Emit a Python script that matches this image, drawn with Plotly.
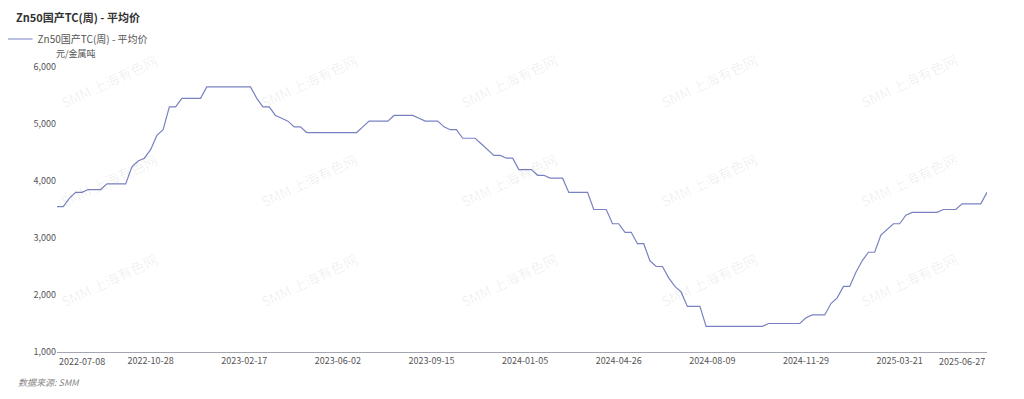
import pandas as pd
import plotly.graph_objects as go

# ---- data ----
title_text = "Zn50国产TC(周) - 平均价"
series_name = "Zn50国产TC(周) - 平均价"
unit_text = "元/金属吨"
source_text = "数据来源: SMM"
watermark_text = "SMM 上海有色网"

start_date = "2022-07-08"
end_date = "2025-06-27"
skipped_weeks = ["2022-10-07", "2023-01-27", "2023-10-06", "2024-02-16", "2024-10-04", "2025-01-31"]

values = [
    3550, 3550, 3700, 3800, 3800, 3850, 3850, 3850, 3950, 3950,
    3950, 3950, 4250, 4350, 4400, 4550, 4800, 4900, 5300, 5300,
    5450, 5450, 5450, 5450, 5650, 5650, 5650, 5650, 5650, 5650,
    5650, 5650, 5450, 5300, 5300, 5150, 5100, 5050, 4950, 4950,
    4850, 4850, 4850, 4850, 4850, 4850, 4850, 4850, 4850, 4950,
    5050, 5050, 5050, 5050, 5150, 5150, 5150, 5150, 5100, 5050,
    5050, 5050, 4950, 4900, 4900, 4750, 4750, 4750, 4650, 4550,
    4450, 4450, 4400, 4400, 4200, 4200, 4200, 4100, 4100, 4050,
    4050, 4050, 3800, 3800, 3800, 3800, 3500, 3500, 3500, 3250,
    3250, 3100, 3100, 2900, 2900, 2600, 2500, 2500, 2300, 2150,
    2050, 1800, 1800, 1800, 1450, 1450, 1450, 1450, 1450, 1450,
    1450, 1450, 1450, 1450, 1500, 1500, 1500, 1500, 1500, 1500,
    1600, 1650, 1650, 1650, 1850, 1950, 2150, 2150, 2400, 2600,
    2750, 2750, 3050, 3150, 3250, 3250, 3400, 3450, 3450, 3450,
    3450, 3450, 3500, 3500, 3500, 3600, 3600, 3600, 3600, 3800,
]

x_tick_labels = ["2022-07-08", "2022-10-28", "2023-02-17", "2023-06-02", "2023-09-15",
                 "2024-01-05", "2024-04-26", "2024-08-09", "2024-11-29", "2025-03-21", "2025-06-27"]
y_tick_values = [1000, 2000, 3000, 4000, 5000, 6000]

dates = [d.strftime("%Y-%m-%d") for d in pd.date_range(start_date, end_date, freq="7D")
         if d.strftime("%Y-%m-%d") not in skipped_weeks]
assert len(dates) == len(values)

# ---- layout geometry ----
# the page body has an 8px margin, so the figure is drawn offset by (8, 8)
OFF = 8
W, H = 1008, 383
PL, PR, PT, PB = 56.5, 987.5, 67, 352          # plot area in page pixels
L, R, T, B = PL - OFF, W - (PR - OFF), PT - OFF, H - (PB - OFF)
pw, ph = PR - PL, PB - PT


def px_x(x):
    return (x - PL) / pw


def px_y(y):
    return (PB - y) / ph


LINE_COLOR = "#7882c2"
TEXT_COLOR = "#555555"
FONT = "Noto Sans CJK SC, Noto Sans, sans-serif"

fig = go.Figure()
fig.add_trace(go.Scatter(
    x=dates, y=values, mode="lines", name=series_name,
    line=dict(color=LINE_COLOR, width=1.2),
))

annotations = []
# watermarks
for cy in [81, 180, 280]:
    for cx in [109, 309, 509, 709, 909]:
        annotations.append(dict(
            text=watermark_text, xref="paper", yref="paper",
            x=px_x(cx), y=px_y(cy), xanchor="center", yanchor="middle",
            showarrow=False, textangle=-25,
            font=dict(family=FONT, size=14, color="rgba(0,0,0,0.07)"),
        ))

# first / last x tick labels (aligned to the plot edges)
annotations.append(dict(text=x_tick_labels[0], xref="x", yref="paper", x=dates.index(x_tick_labels[0]),
                        y=px_y(361.5), xanchor="left", yanchor="middle", showarrow=False,
                        font=dict(family=FONT, size=9, color=TEXT_COLOR)))
annotations.append(dict(text=x_tick_labels[-1], xref="x", yref="paper", x=dates.index(x_tick_labels[-1]),
                        y=px_y(361.5), xanchor="right", yanchor="middle", showarrow=False,
                        font=dict(family=FONT, size=9, color=TEXT_COLOR)))
# unit
annotations.append(dict(text=unit_text, xref="paper", yref="paper", x=px_x(53), y=px_y(53),
                        xanchor="left", yanchor="middle", showarrow=False,
                        font=dict(family=FONT, size=9, color=TEXT_COLOR)))
# source
annotations.append(dict(text=source_text, xref="paper", yref="paper", x=px_x(15), y=px_y(383),
                        xanchor="left", yanchor="middle", showarrow=False,
                        font=dict(family=FONT, size=9, color="#888888", style="italic")))

fig.update_layout(
    width=W, height=H,
    margin=dict(l=L, r=R, t=T, b=B, autoexpand=False),
    paper_bgcolor="white", plot_bgcolor="white",
    font=dict(family=FONT, size=9, color=TEXT_COLOR),
    title=dict(text=f"<b>{title_text}</b>", xref="container", yref="container",
               x=(16 - OFF) / W, y=1 - (18 - OFF) / H, xanchor="left", yanchor="middle",
               font=dict(family=FONT, size=11, color="#333333")),
    showlegend=True,
    legend=dict(x=px_x(-3), y=px_y(39), xanchor="left", yanchor="middle",
                orientation="h", itemwidth=30, bgcolor="rgba(0,0,0,0)",
                font=dict(family=FONT, size=10, color=TEXT_COLOR)),
    annotations=annotations,
    xaxis=dict(type="category", range=[0, len(dates) - 1],
               tickmode="array", tickvals=x_tick_labels[1:-1], ticktext=x_tick_labels[1:-1],
               showgrid=False, zeroline=False, showline=True, linecolor="#a3a6b0", linewidth=1,
               ticks="", tickfont=dict(family=FONT, size=9, color=TEXT_COLOR)),
    yaxis=dict(range=[1000, 6000], tickmode="array", tickvals=y_tick_values,
               tickformat=",d", showgrid=False, zeroline=False, showline=False,
               ticks="", tickfont=dict(family=FONT, size=9, color=TEXT_COLOR)),
)

fig.write_html("out.html")
